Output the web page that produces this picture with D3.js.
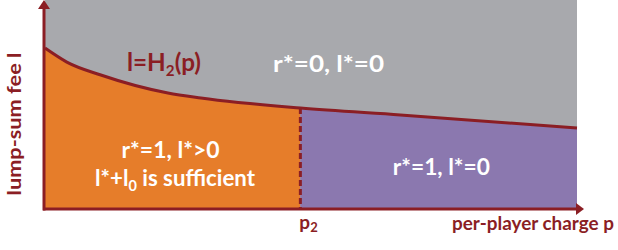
<!DOCTYPE html>
<html>
<head>
<meta charset="utf-8">
<script src="https://cdn.jsdelivr.net/npm/d3@7"></script>
<style>
  html, body { margin: 0; padding: 0; background: #fff; }
  svg { display: block; font-family: Lato, "Open Sans", sans-serif; font-weight: 700; }
</style>
</head>
<body>
<svg id="chart"></svg>
<script>
// boundary curve l = H2(p)
const pVals = [0, 0.41, 1.05, 2.31, 2.93, 4.8, 6.68, 10];
const hVals = [7.7, 7.03, 6.41, 5.55, 5.31, 4.83, 4.5, 3.88];
const p2 = 4.8;

const regionLabels = [
    { text: "r*=0, l*=0", p: 5.33, l: 6.55, w: 111 },
    { text: "r*=1, l*>0", p: 2.36, l: 2.44, w: 98 },
    { text: "r*=1, l*=0", p: 7.45, l: 1.63, w: 97 }
];

const width = 618;
const height = 250;
const marginLeft = 45;
const marginRight = 41;
const marginTop = 0;
const marginBottom = 41;

const darkRed = "#8b1e24";
const grey = "#a8a9ad";
const orange = "#e67d2a";
const purple = "#8b78af";

const svg = d3.select("#chart")
    .attr("width", width)
    .attr("height", height);

const xScale = d3.scaleLinear()
    .domain([0, 10])
    .range([marginLeft, width - marginRight]);

const yScale = d3.scaleLinear()
    .domain([0, 10])
    .range([height - marginBottom, marginTop]);

const pts = pVals.map((p, i) => ({ p: p, l: hVals[i] }));

// grey background region
svg.append("rect")
    .attr("x", xScale(0))
    .attr("y", yScale(10))
    .attr("width", xScale(10) - xScale(0))
    .attr("height", yScale(0) - yScale(10))
    .attr("fill", grey);

const area = d3.area()
    .x(d => xScale(d.p))
    .y0(yScale(0))
    .y1(d => yScale(d.l))
    .curve(d3.curveMonotoneX);

svg.append("path")
    .datum(pts.filter(d => d.p <= p2))
    .attr("d", area)
    .attr("fill", orange);

svg.append("path")
    .datum(pts.filter(d => d.p >= p2))
    .attr("d", area)
    .attr("fill", purple);

// boundary curve
const line = d3.line()
    .x(d => xScale(d.p))
    .y(d => yScale(d.l))
    .curve(d3.curveMonotoneX);

svg.append("path")
    .datum(pts)
    .attr("d", line)
    .attr("fill", "none")
    .attr("stroke", darkRed)
    .attr("stroke-width", 3);

// dashed p2 line
svg.append("line")
    .attr("x1", xScale(p2))
    .attr("x2", xScale(p2))
    .attr("y1", yScale(hVals[pVals.indexOf(p2)]))
    .attr("y2", yScale(0))
    .attr("stroke", darkRed)
    .attr("stroke-width", 3)
    .attr("stroke-dasharray", "6,3");

// axes with arrow heads
svg.append("line")
    .attr("x1", xScale(0) - 2).attr("x2", xScale(10))
    .attr("y1", yScale(0)).attr("y2", yScale(0))
    .attr("stroke", darkRed).attr("stroke-width", 3);
svg.append("path")
    .attr("d", `M${xScale(10) - 1},${yScale(0) - 6} L${xScale(10) + 7},${yScale(0)} L${xScale(10) - 1},${yScale(0) + 6}Z`)
    .attr("fill", darkRed);

svg.append("line")
    .attr("x1", xScale(0) - 1).attr("x2", xScale(0) - 1)
    .attr("y1", yScale(0) + 1.5).attr("y2", 8)
    .attr("stroke", darkRed).attr("stroke-width", 3);
svg.append("path")
    .attr("d", `M${xScale(0) - 7},9 L${xScale(0) - 1},0 L${xScale(0) + 5},9Z`)
    .attr("fill", darkRed);

// curve label
const hLabel = svg.append("text")
    .attr("x", 127)
    .attr("y", 71)
    .attr("fill", darkRed)
    .attr("font-size", 24)
    .attr("textLength", 74)
    .attr("lengthAdjust", "spacingAndGlyphs");
hLabel.append("tspan").text("l=H");
hLabel.append("tspan").attr("font-size", 15).attr("dy", 5).text("2");
hLabel.append("tspan").attr("dy", -5).text("(p)");

// region labels
svg.selectAll("text.region")
    .data(regionLabels)
    .join("text")
    .attr("class", "region")
    .attr("x", d => xScale(d.p))
    .attr("y", d => yScale(d.l))
    .attr("text-anchor", "middle")
    .attr("fill", "#fff")
    .attr("font-size", 23)
    .attr("textLength", d => d.w)
    .attr("lengthAdjust", "spacingAndGlyphs")
    .text(d => d.text);

const suff = svg.append("text")
    .attr("x", 175)
    .attr("y", 186)
    .attr("text-anchor", "middle")
    .attr("fill", "#fff")
    .attr("font-size", 23)
    .attr("textLength", 160)
    .attr("lengthAdjust", "spacingAndGlyphs");
suff.append("tspan").text("l*+l");
suff.append("tspan").attr("font-size", 15).attr("dy", 5).text("0");
suff.append("tspan").attr("dy", -5).text(" is sufficient");

// axis labels
const p2Label = svg.append("text")
    .attr("x", xScale(p2) - 1)
    .attr("y", 229)
    .attr("fill", darkRed)
    .attr("font-size", 19);
p2Label.append("tspan").text("p");
p2Label.append("tspan").attr("font-size", 13).attr("dy", 3).text("2");

svg.append("text")
    .attr("x", 614)
    .attr("y", 230)
    .attr("text-anchor", "end")
    .attr("fill", darkRed)
    .attr("font-size", 19)
    .attr("textLength", 162)
    .attr("lengthAdjust", "spacingAndGlyphs")
    .text("per-player charge p");

svg.append("text")
    .attr("transform", "translate(21,124) rotate(-90)")
    .attr("text-anchor", "middle")
    .attr("fill", darkRed)
    .attr("font-size", 19)
    .attr("textLength", 143)
    .attr("lengthAdjust", "spacingAndGlyphs")
    .text("lump-sum fee l");
</script>
</body>
</html>
